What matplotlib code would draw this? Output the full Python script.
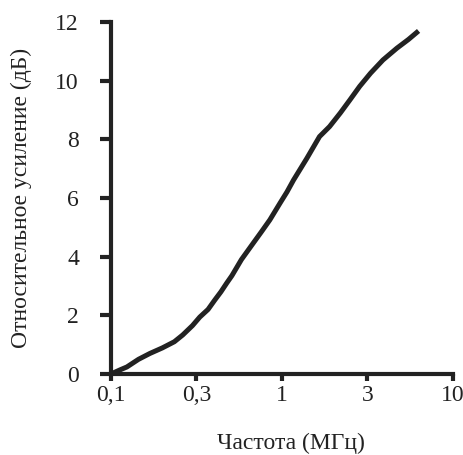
import matplotlib
matplotlib.use("Agg")
import matplotlib.pyplot as plt
import numpy as np

freq_mhz = [0.1, 0.113, 0.124, 0.145, 0.169, 0.2, 0.235, 0.263, 0.3, 0.331, 0.37, 0.405,
            0.44, 0.476, 0.51, 0.58, 0.68, 0.76, 0.85, 0.977, 1.07, 1.17, 1.4, 1.66,
            1.9, 2.2, 2.5, 2.85, 3.3, 3.9, 4.7, 5.5, 6.3]
gain_db = [0.0, 0.14, 0.24, 0.5, 0.7, 0.89, 1.1, 1.33, 1.65, 1.94, 2.2, 2.52,
           2.8, 3.1, 3.35, 3.9, 4.46, 4.85, 5.25, 5.83, 6.2, 6.61, 7.35, 8.09,
           8.43, 8.9, 9.34, 9.8, 10.25, 10.7, 11.1, 11.4, 11.69]

x_ticks = [0.1, 10 ** -0.5, 1, 10 ** 0.5, 10]
x_tick_labels = ["0,1", "0,3", "1", "3", "10"]
y_ticks = [0, 2, 4, 6, 8, 10, 12]

plt.rcParams['font.family'] = ['Liberation Serif', 'DejaVu Serif']
fig = plt.figure(figsize=(4.64, 4.55), dpi=100)
ax = fig.add_axes([0.239, 0.178, 0.737, 0.774])
ink = "#222222"
ax.plot(freq_mhz, gain_db, color=ink, lw=3.6, solid_capstyle='butt')
ax.set_xscale('log')
ax.set_xlim(0.1, 10)
ax.set_ylim(0, 12)
ax.set_xticks(x_ticks)
ax.set_xticklabels(x_tick_labels)
ax.xaxis.set_minor_locator(matplotlib.ticker.NullLocator())
ax.set_yticks(y_ticks)
for s in ['top', 'right']:
    ax.spines[s].set_visible(False)
for s in ['left', 'bottom']:
    ax.spines[s].set_linewidth(3)
    ax.spines[s].set_color(ink)
ax.tick_params(axis='y', direction='out', length=8, width=3, color=ink, labelsize=17, pad=15, labelcolor=ink)
ax.tick_params(axis='x', direction='out', length=5, width=3, color=ink, labelsize=17, pad=3, labelcolor=ink)
ax.set_xlabel("Частота (МГц)", fontsize=17, color=ink)
ax.set_ylabel("Относительное усиление (дБ)", fontsize=17, color=ink)
ax.xaxis.set_label_coords(0.526, -0.168)
ax.yaxis.set_label_coords(-0.23, 0.5)
fig.savefig("out.png", dpi=100)
